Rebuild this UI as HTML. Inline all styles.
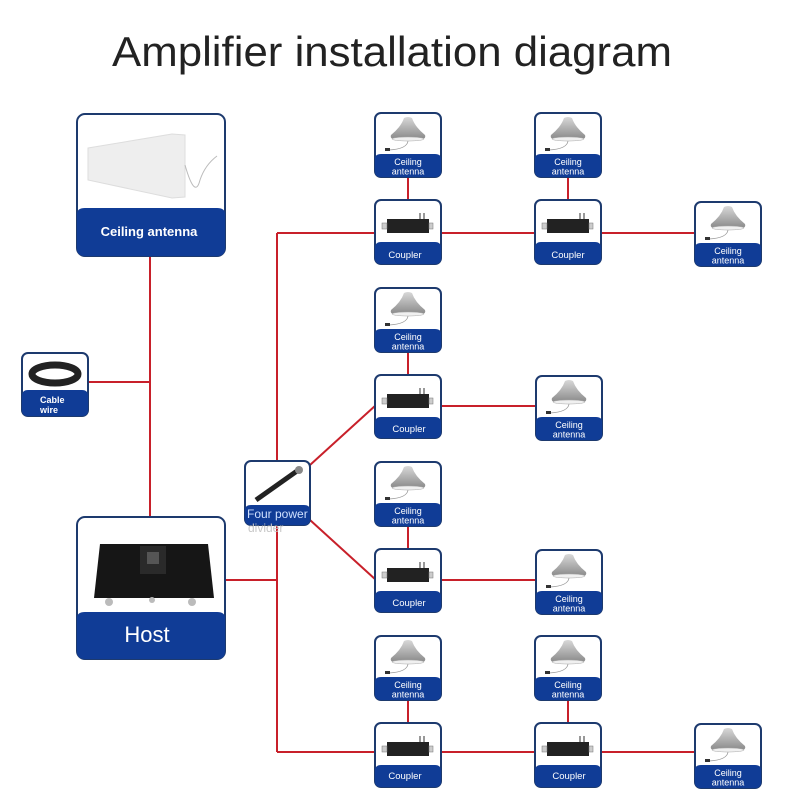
<!DOCTYPE html>
<html><head><meta charset="utf-8"><style>
html,body{margin:0;padding:0;background:#fff}
svg{display:block}
text{font-family:"Liberation Sans",sans-serif}
</style></head><body>
<svg width="800" height="800" viewBox="0 0 800 800" xmlns="http://www.w3.org/2000/svg">
<defs>
<linearGradient id="dome" x1="0" y1="0" x2="0" y2="1"><stop offset="0" stop-color="#d8d8d8"/><stop offset="1" stop-color="#8a8a8a"/></linearGradient>
<g id="ant">
<path d="M29 5 Q33 3 37 5 Q40 14 50 22 Q51 25 48 26 L18 26 Q15 25 16 22 Q26 14 29 5 Z" fill="url(#dome)"/>
<ellipse cx="33" cy="26" rx="16" ry="2" fill="#f0f0f0" stroke="#aaa" stroke-width="0.5"/>
<path d="M33 28 Q32 36 14 37" fill="none" stroke="#999" stroke-width="0.8"/>
<rect x="10" y="35" width="5" height="3" fill="#333"/>
</g>
<g id="coup">
<rect x="12" y="19" width="42" height="14" fill="#222"/>
<rect x="7" y="23" width="5" height="6" fill="#ccc" stroke="#777" stroke-width="0.5"/>
<rect x="54" y="23" width="4" height="6" fill="#ccc" stroke="#777" stroke-width="0.5"/>
<rect x="44" y="13" width="2" height="6" fill="#999"/><rect x="48" y="13" width="2" height="6" fill="#999"/>
</g>
</defs>

<text x="392" y="66" text-anchor="middle" font-size="42" fill="#222" textLength="560" lengthAdjust="spacingAndGlyphs">Amplifier installation diagram</text>

<g stroke="#c8202a" stroke-width="2" fill="none">
<path d="M150 256V516M88 382H150M225 580H277M277 233V752"/>
<path d="M277 233H375M441 233H535M601 233H695"/>
<path d="M310 465L376 405M441 406H536"/>
<path d="M310 520L376 580M441 580H536"/>
<path d="M277 752H375M441 752H535M601 752H695"/>
<path d="M408 177V200M568 177V200M408 352V375M408 526V549M408 700V723M568 700V723"/>
</g>

<rect x="77" y="114" width="148" height="142" rx="8" fill="#fff" stroke="#1d3a6e" stroke-width="2"/>
<path d="M77 214 Q77 208 85 208 H217 Q225 208 225 214 V248 Q225 256 217 256 H85 Q77 256 77 248Z" fill="#103c96"/>
<path d="M88 148 L172 134 L185 135 L185 197 L172 198 L88 180 Z" fill="#eeeeee" stroke="#ddd"/>
<path d="M185 165 Q195 200 200 180 Q205 165 217 156" fill="none" stroke="#bbb"/>
<text x="149" y="236" text-anchor="middle" font-size="13" font-weight="bold" fill="#fff">Ceiling antenna</text>

<rect x="77" y="517" width="148" height="142" rx="8" fill="#fff" stroke="#1d3a6e" stroke-width="2"/>
<path d="M77 618 Q77 612 85 612 H217 Q225 612 225 618 V651 Q225 659 217 659 H85 Q77 659 77 651Z" fill="#103c96"/>
<path d="M100 544 H208 L214 598 H94 Z" fill="#161616"/>
<rect x="140" y="546" width="26" height="28" fill="#2a2a2a"/>
<rect x="147" y="552" width="12" height="12" fill="#555"/>
<circle cx="109" cy="602" r="4" fill="#bbb"/><circle cx="192" cy="602" r="4" fill="#bbb"/><circle cx="152" cy="600" r="3" fill="#bbb"/>
<text x="147" y="642" text-anchor="middle" font-size="22" fill="#fff">Host</text>

<rect x="22" y="353" width="66" height="63" rx="6" fill="#fff" stroke="#1d3a6e" stroke-width="2"/>
<path d="M22 396 Q22 390 28 390 H82 Q88 390 88 396 V410 Q88 416 82 416 H28 Q22 416 22 410Z" fill="#103c96"/>
<ellipse cx="55" cy="374" rx="23" ry="9" fill="none" stroke="#222" stroke-width="7"/>
<text x="40" y="403" font-size="9" font-weight="bold" fill="#fff">Cable</text>
<text x="40" y="413" font-size="9" font-weight="bold" fill="#fff">wire</text>

<rect x="245" y="461" width="65" height="64" rx="6" fill="#fff" stroke="#1d3a6e" stroke-width="2"/>
<path d="M245 510 Q245 505 251 505 H304 Q310 505 310 510 V519 Q310 525 304 525 H251 Q245 525 245 519Z" fill="#103c96"/>
<path d="M256 500 L297 471" stroke="#222" stroke-width="5"/>
<circle cx="299" cy="470" r="4" fill="#888"/>
<text x="247" y="518" font-size="12" fill="#cfe0ff">Four power</text>
<text x="248" y="532" font-size="12" fill="#c8c8c8">divider</text>

<g transform="translate(375,113)"><rect x="0" y="0" width="66" height="64" rx="6" fill="#fff" stroke="#1d3a6e" stroke-width="2"/><use href="#ant"/><path d="M0 46Q0 41 6 41H60Q66 41 66 46V58Q66 64 60 64H6Q0 64 0 58Z" fill="#103c96"/><text x="33" y="52" text-anchor="middle" font-size="9" fill="#fff">Ceiling</text><text x="33" y="61.5" text-anchor="middle" font-size="9" fill="#fff">antenna</text></g>
<g transform="translate(535,113)"><rect x="0" y="0" width="66" height="64" rx="6" fill="#fff" stroke="#1d3a6e" stroke-width="2"/><use href="#ant"/><path d="M0 46Q0 41 6 41H60Q66 41 66 46V58Q66 64 60 64H6Q0 64 0 58Z" fill="#103c96"/><text x="33" y="52" text-anchor="middle" font-size="9" fill="#fff">Ceiling</text><text x="33" y="61.5" text-anchor="middle" font-size="9" fill="#fff">antenna</text></g>
<g transform="translate(695,202)"><rect x="0" y="0" width="66" height="64" rx="6" fill="#fff" stroke="#1d3a6e" stroke-width="2"/><use href="#ant"/><path d="M0 46Q0 41 6 41H60Q66 41 66 46V58Q66 64 60 64H6Q0 64 0 58Z" fill="#103c96"/><text x="33" y="52" text-anchor="middle" font-size="9" fill="#fff">Ceiling</text><text x="33" y="61.5" text-anchor="middle" font-size="9" fill="#fff">antenna</text></g>
<g transform="translate(375,288)"><rect x="0" y="0" width="66" height="64" rx="6" fill="#fff" stroke="#1d3a6e" stroke-width="2"/><use href="#ant"/><path d="M0 46Q0 41 6 41H60Q66 41 66 46V58Q66 64 60 64H6Q0 64 0 58Z" fill="#103c96"/><text x="33" y="52" text-anchor="middle" font-size="9" fill="#fff">Ceiling</text><text x="33" y="61.5" text-anchor="middle" font-size="9" fill="#fff">antenna</text></g>
<g transform="translate(536,376)"><rect x="0" y="0" width="66" height="64" rx="6" fill="#fff" stroke="#1d3a6e" stroke-width="2"/><use href="#ant"/><path d="M0 46Q0 41 6 41H60Q66 41 66 46V58Q66 64 60 64H6Q0 64 0 58Z" fill="#103c96"/><text x="33" y="52" text-anchor="middle" font-size="9" fill="#fff">Ceiling</text><text x="33" y="61.5" text-anchor="middle" font-size="9" fill="#fff">antenna</text></g>
<g transform="translate(375,462)"><rect x="0" y="0" width="66" height="64" rx="6" fill="#fff" stroke="#1d3a6e" stroke-width="2"/><use href="#ant"/><path d="M0 46Q0 41 6 41H60Q66 41 66 46V58Q66 64 60 64H6Q0 64 0 58Z" fill="#103c96"/><text x="33" y="52" text-anchor="middle" font-size="9" fill="#fff">Ceiling</text><text x="33" y="61.5" text-anchor="middle" font-size="9" fill="#fff">antenna</text></g>
<g transform="translate(536,550)"><rect x="0" y="0" width="66" height="64" rx="6" fill="#fff" stroke="#1d3a6e" stroke-width="2"/><use href="#ant"/><path d="M0 46Q0 41 6 41H60Q66 41 66 46V58Q66 64 60 64H6Q0 64 0 58Z" fill="#103c96"/><text x="33" y="52" text-anchor="middle" font-size="9" fill="#fff">Ceiling</text><text x="33" y="61.5" text-anchor="middle" font-size="9" fill="#fff">antenna</text></g>
<g transform="translate(375,636)"><rect x="0" y="0" width="66" height="64" rx="6" fill="#fff" stroke="#1d3a6e" stroke-width="2"/><use href="#ant"/><path d="M0 46Q0 41 6 41H60Q66 41 66 46V58Q66 64 60 64H6Q0 64 0 58Z" fill="#103c96"/><text x="33" y="52" text-anchor="middle" font-size="9" fill="#fff">Ceiling</text><text x="33" y="61.5" text-anchor="middle" font-size="9" fill="#fff">antenna</text></g>
<g transform="translate(535,636)"><rect x="0" y="0" width="66" height="64" rx="6" fill="#fff" stroke="#1d3a6e" stroke-width="2"/><use href="#ant"/><path d="M0 46Q0 41 6 41H60Q66 41 66 46V58Q66 64 60 64H6Q0 64 0 58Z" fill="#103c96"/><text x="33" y="52" text-anchor="middle" font-size="9" fill="#fff">Ceiling</text><text x="33" y="61.5" text-anchor="middle" font-size="9" fill="#fff">antenna</text></g>
<g transform="translate(695,724)"><rect x="0" y="0" width="66" height="64" rx="6" fill="#fff" stroke="#1d3a6e" stroke-width="2"/><use href="#ant"/><path d="M0 46Q0 41 6 41H60Q66 41 66 46V58Q66 64 60 64H6Q0 64 0 58Z" fill="#103c96"/><text x="33" y="52" text-anchor="middle" font-size="9" fill="#fff">Ceiling</text><text x="33" y="61.5" text-anchor="middle" font-size="9" fill="#fff">antenna</text></g>

<g transform="translate(375,200)"><rect x="0" y="0" width="66" height="64" rx="6" fill="#fff" stroke="#1d3a6e" stroke-width="2"/><use href="#coup"/><path d="M0 48Q0 42 6 42H60Q66 42 66 48V58Q66 64 60 64H6Q0 64 0 58Z" fill="#103c96"/><text x="30" y="58" text-anchor="middle" font-size="9.5" fill="#fff">Coupler</text></g>
<g transform="translate(535,200)"><rect x="0" y="0" width="66" height="64" rx="6" fill="#fff" stroke="#1d3a6e" stroke-width="2"/><use href="#coup"/><path d="M0 48Q0 42 6 42H60Q66 42 66 48V58Q66 64 60 64H6Q0 64 0 58Z" fill="#103c96"/><text x="33" y="58" text-anchor="middle" font-size="9.5" fill="#fff">Coupler</text></g>
<g transform="translate(375,375)"><rect x="0" y="0" width="66" height="63" rx="6" fill="#fff" stroke="#1d3a6e" stroke-width="2"/><use href="#coup"/><path d="M0 48Q0 42 6 42H60Q66 42 66 48V57Q66 63 60 63H6Q0 63 0 57Z" fill="#103c96"/><text x="34" y="57" text-anchor="middle" font-size="9.5" fill="#fff">Coupler</text></g>
<g transform="translate(375,549)"><rect x="0" y="0" width="66" height="63" rx="6" fill="#fff" stroke="#1d3a6e" stroke-width="2"/><use href="#coup"/><path d="M0 48Q0 42 6 42H60Q66 42 66 48V57Q66 63 60 63H6Q0 63 0 57Z" fill="#103c96"/><text x="34" y="57" text-anchor="middle" font-size="9.5" fill="#fff">Coupler</text></g>
<g transform="translate(375,723)"><rect x="0" y="0" width="66" height="64" rx="6" fill="#fff" stroke="#1d3a6e" stroke-width="2"/><use href="#coup"/><path d="M0 48Q0 42 6 42H60Q66 42 66 48V58Q66 64 60 64H6Q0 64 0 58Z" fill="#103c96"/><text x="30" y="56" text-anchor="middle" font-size="9.5" fill="#fff">Coupler</text></g>
<g transform="translate(535,723)"><rect x="0" y="0" width="66" height="64" rx="6" fill="#fff" stroke="#1d3a6e" stroke-width="2"/><use href="#coup"/><path d="M0 48Q0 42 6 42H60Q66 42 66 48V58Q66 64 60 64H6Q0 64 0 58Z" fill="#103c96"/><text x="34" y="56" text-anchor="middle" font-size="9.5" fill="#fff">Coupler</text></g>
</svg>
</body></html>
